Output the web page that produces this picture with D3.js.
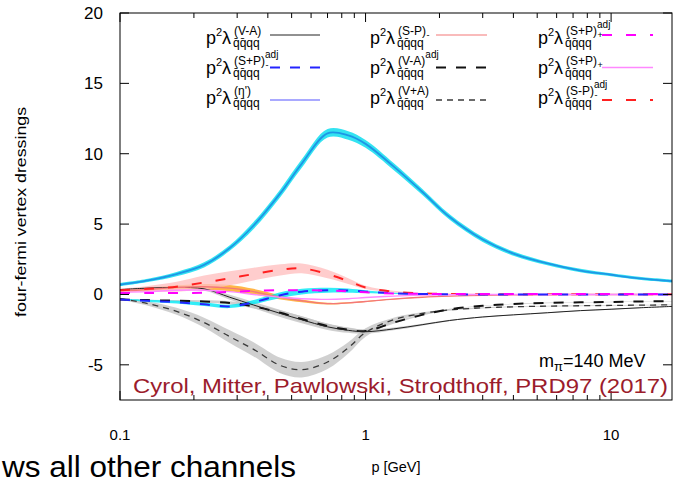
<!DOCTYPE html>
<html>
<head>
<meta charset="utf-8">
<script src="https://cdn.jsdelivr.net/npm/d3@7"></script>
<style>
  body { margin: 0; background: #fff; }
  svg { display: block; font-family: "Liberation Sans", Arial, sans-serif; }
</style>
</head>
<body>
<svg id="chart" width="675" height="484"></svg>
<script>
// Momentum grid (GeV) shared by all four-fermi channels
const pGrid = [0.1, 0.13, 0.17, 0.22, 0.28, 0.35, 0.45, 0.55, 0.7, 0.85, 1.0, 1.3, 1.7, 2.2, 3, 4, 5.5, 7.5, 10, 13, 17.7];

// p^2 lambda dressings per channel, with band half-widths
const etaPrime      = [0.7, 1.0, 1.45, 2.1, 3.3, 4.9, 7.2, 9.3, 11.45, 11.3, 10.7, 9.1, 7.3, 5.5, 3.9, 2.9, 2.2, 1.7, 1.4, 1.15, 0.95];
const etaPrimeErr   = [0.12, 0.12, 0.15, 0.18, 0.2, 0.25, 0.28, 0.3, 0.3, 0.3, 0.28, 0.25, 0.22, 0.2, 0.18, 0.15, 0.13, 0.12, 0.1, 0.1, 0.1];
const spAdjMinus    = [0.3, 0.4, 0.55, 0.85, 1.15, 1.45, 1.75, 1.85, 1.45, 0.95, 0.5, 0.2, 0.08, 0.04, 0.02, 0.02, 0.02, 0.02, 0.02, 0.02, 0.02];
const spAdjMinusErr = [0.1, 0.2, 0.35, 0.5, 0.5, 0.45, 0.4, 0.35, 0.3, 0.2, 0.12, 0.06, 0.03, 0.02, 0.01, 0.01, 0.01, 0.01, 0.01, 0.01, 0.01];
const sPlusAdjMinus = [-0.35, -0.45, -0.55, -0.7, -0.85, -0.55, -0.05, 0.2, 0.3, 0.28, 0.2, 0.08, 0.03, 0.01, 0, 0, 0, 0, 0, 0, 0];
const sPlusAdjMinusErr = [0.05, 0.08, 0.1, 0.12, 0.12, 0.15, 0.2, 0.2, 0.18, 0.15, 0.1, 0.05, 0.03, 0.02, 0.01, 0.01, 0.01, 0.01, 0.01, 0.01, 0.01];
const sPlusAdjPlus  = [0.1, 0.1, 0.1, 0.12, 0.18, 0.25, 0.3, 0.3, 0.28, 0.22, 0.15, 0.07, 0.04, 0.03, 0.03, 0.03, 0.03, 0.03, 0.03, 0.03, 0.03];
const sPlusPlus     = [0.15, 0.2, 0.3, 0.3, 0.2, 0.0, -0.2, -0.3, -0.35, -0.3, -0.22, -0.12, -0.05, -0.02, 0, 0, 0, 0, 0, 0, 0];
const sMinusMinus   = [0.25, 0.35, 0.5, 0.55, 0.45, 0.2, -0.2, -0.45, -0.65, -0.6, -0.5, -0.33, -0.2, -0.12, -0.06, -0.03, -0.01, 0, 0, 0, 0];
const sMinusMinusErr = [0.05, 0.1, 0.15, 0.2, 0.22, 0.2, 0.15, 0.1, 0.06, 0.04, 0.03, 0.02, 0.01, 0.01, 0.01, 0.01, 0.01, 0.01, 0.01, 0.01, 0.01];
const vMinusA       = [0.35, 0.45, 0.5, 0.4, -0.2, -0.75, -1.35, -1.8, -2.3, -2.55, -2.65, -2.45, -2.15, -1.85, -1.6, -1.45, -1.3, -1.15, -1.05, -0.95, -0.85];
const vMinusAErr    = [0.03, 0.05, 0.08, 0.12, 0.18, 0.22, 0.25, 0.25, 0.22, 0.18, 0.15, 0.1, 0.07, 0.05, 0.04, 0.03, 0.03, 0.03, 0.03, 0.03, 0.03];
const vMinusAAdj    = [-0.35, -0.4, -0.45, -0.5, -0.6, -0.85, -1.3, -1.75, -2.25, -2.5, -2.6, -2.0, -1.45, -1.05, -0.8, -0.68, -0.6, -0.56, -0.53, -0.5, -0.48];
const vMinusAAdjErr = [0.02, 0.03, 0.05, 0.08, 0.12, 0.15, 0.18, 0.2, 0.18, 0.15, 0.12, 0.08, 0.05, 0.03, 0.02, 0.02, 0.02, 0.02, 0.02, 0.02, 0.02];
const vPlusA        = [-0.3, -0.65, -1.2, -2.0, -3.0, -3.9, -5.05, -5.35, -4.8, -3.8, -2.7, -1.8, -1.35, -1.1, -0.95, -0.88, -0.83, -0.8, -0.78, -0.76, -0.74];
const vPlusAErr     = [0.05, 0.15, 0.25, 0.35, 0.45, 0.5, 0.55, 0.55, 0.5, 0.4, 0.3, 0.15, 0.08, 0.05, 0.04, 0.03, 0.03, 0.03, 0.03, 0.03, 0.03];

// Axis ticks
const yTicks = [-5, 0, 5, 10, 15, 20];
const xTickLabels = [0.1, 1, 10];

const svg = d3.select("#chart");
const plotLeft = 120, plotRight = 672, plotTop = 13, plotBottom = 400;

const x = d3.scaleLog().domain([0.1, 17.7]).range([plotLeft, plotRight]);
const y = d3.scaleLinear().domain([-7.5, 20]).range([plotBottom, plotTop]);

svg.append("defs").append("clipPath").attr("id", "plotArea")
  .append("rect").attr("x", plotLeft).attr("y", plotTop)
  .attr("width", plotRight - plotLeft).attr("height", plotBottom - plotTop);

// Channel styles (bands first, then lines)
const series = [
  { v: vPlusA, e: vPlusAErr, band: "#c4c4c4", color: "#3a3a3a", width: 1.3, dash: "6,5" },
  { v: vMinusAAdj, e: vMinusAAdjErr, band: "#c4c4c4", color: "#111", width: 2, dash: "10,10" },
  { v: vMinusA, e: vMinusAErr, band: "#c4c4c4", color: "#222", width: 1, dash: null },
  { v: sMinusMinus, e: sMinusMinusErr, band: "#ffa41a", color: "#f47878", width: 1.4, dash: null },
  { v: spAdjMinus, e: spAdjMinusErr, band: "#ffc0c0", color: "#ff2020", width: 2, dash: "10,14" },
  { v: sPlusPlus, e: null, band: null, color: "#ff88ff", width: 1.4, dash: null },
  { v: sPlusAdjMinus, e: sPlusAdjMinusErr, band: "#00e8f5", color: "#2424ff", width: 2, dash: "10,10" },
  { v: sPlusAdjPlus, e: null, band: null, color: "#ff00ff", width: 2, dash: "10,14" },
  { v: etaPrime, e: etaPrimeErr, band: "#00dcee", color: "#1e96e6", width: 1.8, dash: null }
];

const smooth = d3.curveCatmullRom.alpha(0.5);
const plot = svg.append("g").attr("clip-path", "url(#plotArea)");
const area = d3.area().x((d, i) => x(pGrid[i])).y0(d => y(d[0])).y1(d => y(d[1])).curve(smooth);
const line = d3.line().x((d, i) => x(pGrid[i])).y(d => y(d)).curve(smooth);

series.forEach(s => {
  if (s.e) {
    plot.append("path")
      .datum(s.v.map((v, i) => [v - s.e[i], v + s.e[i]]))
      .attr("d", area).attr("fill", s.band).attr("fill-opacity", 0.8);
  }
});
series.forEach(s => {
  plot.append("path").datum(s.v).attr("d", line)
    .attr("fill", "none").attr("stroke", s.color).attr("stroke-width", s.width)
    .attr("stroke-dasharray", s.dash);
});

// Frame and ticks
const axes = svg.append("g").attr("stroke", "#000").attr("stroke-width", 1);
axes.append("rect").attr("x", plotLeft).attr("y", plotTop)
  .attr("width", plotRight - plotLeft).attr("height", plotBottom - plotTop)
  .attr("fill", "none");
yTicks.forEach(t => {
  axes.append("line").attr("x1", plotLeft).attr("x2", plotLeft + 9).attr("y1", y(t)).attr("y2", y(t));
  axes.append("line").attr("x1", plotRight).attr("x2", plotRight - 9).attr("y1", y(t)).attr("y2", y(t));
});
x.ticks().forEach(t => {
  const major = Math.abs(Math.log10(t) - Math.round(Math.log10(t))) < 1e-9;
  const len = major ? 9 : 5;
  axes.append("line").attr("x1", x(t)).attr("x2", x(t)).attr("y1", plotBottom).attr("y2", plotBottom - len);
  axes.append("line").attr("x1", x(t)).attr("x2", x(t)).attr("y1", plotTop).attr("y2", plotTop + len);
});

// Tick labels
svg.append("g").selectAll("text").data(yTicks).join("text")
  .attr("x", 103).attr("y", d => y(d) + 6).attr("text-anchor", "end")
  .style("font-size", "17px").text(d => d);
svg.append("g").selectAll("text").data(xTickLabels).join("text")
  .attr("x", d => x(d)).attr("y", 440).attr("text-anchor", "middle")
  .style("font-size", "15px").text(d => d);

// Axis titles
svg.append("text").attr("transform", "translate(26,212) rotate(-90)")
  .attr("text-anchor", "middle").style("font-size", "14px")
  .attr("textLength", 210).attr("lengthAdjust", "spacingAndGlyphs")
  .text("four-fermi vertex dressings");
svg.append("text").attr("x", 396).attr("y", 472).attr("text-anchor", "middle")
  .style("font-size", "14.5px").text("p [GeV]");

// Annotations
svg.append("text").attr("x", 133).attr("y", 393).style("font-size", "21px").attr("fill", "#9b1c2c")
  .attr("textLength", 535).attr("lengthAdjust", "spacingAndGlyphs")
  .text("Cyrol, Mitter, Pawlowski, Strodthoff, PRD97 (2017)");
const mpi = svg.append("text").attr("x", 539).attr("y", 367).style("font-size", "18px");
mpi.append("tspan").text("m");
mpi.append("tspan").attr("dy", 4).style("font-size", "13px").text("π");
mpi.append("tspan").attr("dy", -4).text("=140 MeV");

svg.append("text").attr("x", 2).attr("y", 477)
  .style("font-size", "30px").attr("textLength", 294).attr("lengthAdjust", "spacingAndGlyphs")
  .text("ws all other channels");

// Legend: three columns of three entries
const legendCols = [
  { tx: 206, lx1: 270, lx2: 320 },
  { tx: 370, lx1: 436, lx2: 487 },
  { tx: 538, lx1: 602, lx2: 653 }
];
const legendRows = [ { base: 44, ly: 35 }, { base: 74, ly: 67.5 }, { base: 104, ly: 100 } ];
const legendEntries = [
  { col: 0, row: 0, sup: "(V-A)", sign: "", adj: false, color: "#222", width: 1, dash: null },
  { col: 0, row: 1, sup: "(S+P)", sign: "-", adj: true, color: "#2424ff", width: 2, dash: "10,10" },
  { col: 0, row: 2, sup: "(η')", sign: "", adj: false, color: "#8c8cff", width: 1.4, dash: null },
  { col: 1, row: 0, sup: "(S-P)", sign: "-", adj: false, color: "#f47878", width: 1.2, dash: null },
  { col: 1, row: 1, sup: "(V-A)", sign: "", adj: true, color: "#111", width: 2, dash: "10,10" },
  { col: 1, row: 2, sup: "(V+A)", sign: "", adj: false, color: "#3a3a3a", width: 1.3, dash: "6,5" },
  { col: 2, row: 0, sup: "(S+P)", sign: "+", adj: true, color: "#ff00ff", width: 2, dash: "10,14" },
  { col: 2, row: 1, sup: "(S+P)", sign: "+", adj: false, color: "#ff88ff", width: 1.4, dash: null },
  { col: 2, row: 2, sup: "(S-P)", sign: "-", adj: true, color: "#ff2020", width: 2, dash: "10,14" }
];

const legend = svg.append("g");
legendEntries.forEach(e => {
  const c = legendCols[e.col], r = legendRows[e.row];
  const x0 = c.tx, b = r.base;
  legend.append("text").attr("x", x0).attr("y", b).style("font-size", "18px").text("p");
  legend.append("text").attr("x", x0 + 10).attr("y", b - 8).style("font-size", "11px").text("2");
  legend.append("text").attr("x", x0 + 16).attr("y", b).style("font-size", "18px").text("λ");
  const supText = legend.append("text").attr("x", x0 + 28).attr("y", b - 9)
    .style("font-size", "12px").text(e.sup);
  const w = supText.node().getComputedTextLength();
  if (e.sign) {
    legend.append("text").attr("x", x0 + 28 + w + 0.5).attr("y", b - 6)
      .style("font-size", "9px").text(e.sign);
  }
  if (e.adj) {
    legend.append("text").attr("x", x0 + 28 + w).attr("y", b - 16)
      .style("font-size", "10px").text("adj");
  }
  legend.append("text").attr("x", x0 + 27).attr("y", b + 3)
    .style("font-size", "12px").text("q\u0304q\u0304qq");
  legend.append("line").attr("x1", c.lx1).attr("x2", c.lx2).attr("y1", r.ly).attr("y2", r.ly)
    .attr("stroke", e.color).attr("stroke-width", e.width).attr("stroke-dasharray", e.dash);
});
</script>
</body>
</html>
